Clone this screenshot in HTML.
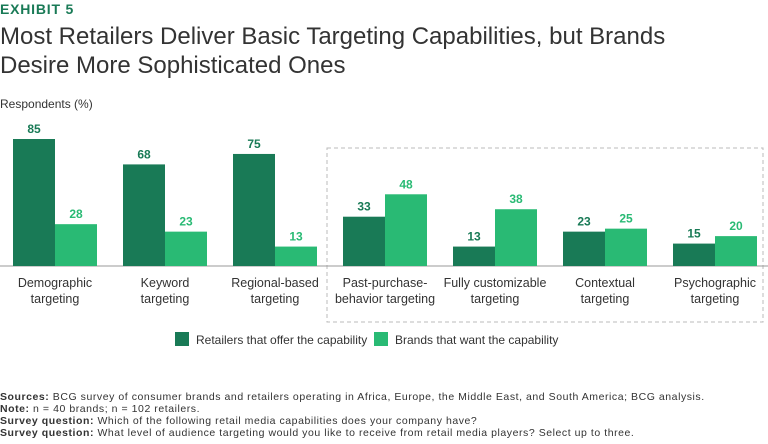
<!DOCTYPE html>
<html><head><meta charset="utf-8"><style>
body{margin:0;background:#fff;font-family:"Liberation Sans",sans-serif;color:#333}
#wrap{position:relative;width:768px;height:444px;overflow:hidden}
.t{position:absolute;white-space:nowrap}
</style></head><body>
<div id="wrap">
<div class="t" style="left:0;top:1px;font-size:14px;font-weight:bold;color:#197a56;letter-spacing:0.8px">EXHIBIT 5</div>
<div class="t" style="left:0;top:22px;font-size:24px;line-height:29px;color:#333">Most Retailers Deliver Basic Targeting Capabilities, but Brands<br>Desire More Sophisticated Ones</div>
<div class="t" style="left:0;top:97px;font-size:12px;color:#333">Respondents (%)</div>
<svg id="chart" width="768" height="444" style="position:absolute;left:0;top:0"></svg>
<div class="t" style="left:0;top:391px;font-size:10.5px;line-height:12px;letter-spacing:0.55px;color:#333">
<b>Sources:</b> BCG survey of consumer brands and retailers operating in Africa, Europe, the Middle East, and South America; BCG analysis.<br>
<b>Note:</b> n = 40 brands; n = 102 retailers.<br>
<b>Survey question:</b> Which of the following retail media capabilities does your company have?<br>
<b>Survey question:</b> What level of audience targeting would you like to receive from retail media players? Select up to three.</div>
</div>
<script>
const categories=[["Demographic","targeting"],["Keyword","targeting"],["Regional-based","targeting"],["Past-purchase-","behavior targeting"],["Fully customizable","targeting"],["Contextual","targeting"],["Psychographic","targeting"]];
const retailers=[85,68,75,33,13,23,15];
const brands=[28,23,13,48,38,25,20];
const seriesNames=["Retailers that offer the capability","Brands that want the capability"];
const colors=["#197a56","#29ba74"];
const svg=document.getElementById('chart');
const NS="http://www.w3.org/2000/svg";
const base=266, scale=1.494;
const y=v=>base-v*scale;
const cx=i=>55+i*110;
const bw=42;
function mk(t,a){const e=document.createElementNS(NS,t);for(const k in a)e.setAttribute(k,a[k]);svg.appendChild(e);return e;}
const box=mk('rect',{x:327,y:148,width:436,height:174,fill:'none',stroke:'#bbb','stroke-dasharray':'4,3'});


const ax=mk('line',{x1:0,x2:768,y1:base,y2:base,stroke:'#999','stroke-width':1});


[retailers,brands].forEach((s,si)=>{s.forEach((v,i)=>{
 const x=cx(i)-bw+si*bw;
 const r=mk('rect',{x:x,y:y(v),width:bw,height:base-y(v),fill:colors[si]});
 
 
 const t=mk('text',{x:x+bw/2,y:y(v)-6,'text-anchor':'middle','font-size':12,'font-weight':'bold',fill:colors[si],'font-family':'Liberation Sans'});
 t.textContent=v;
 
 
});});
categories.forEach((c,i)=>{c.forEach((l,j)=>{
 const t=mk('text',{x:cx(i),y:287+j*16,'text-anchor':'middle','font-size':12.5,fill:'#333','font-family':'Liberation Sans'});
 t.textContent=l;
 
 
});});
[[175,seriesNames[0]],[374,seriesNames[1]]].forEach((p,i)=>{
 const r=mk('rect',{x:p[0],y:332,width:14,height:14,fill:colors[i]});
 
 
 const t=mk('text',{x:p[0]+21,y:344,'font-size':12,fill:'#333','font-family':'Liberation Sans'});
 t.textContent=p[1];
 
 
});
</script>
</body></html>
